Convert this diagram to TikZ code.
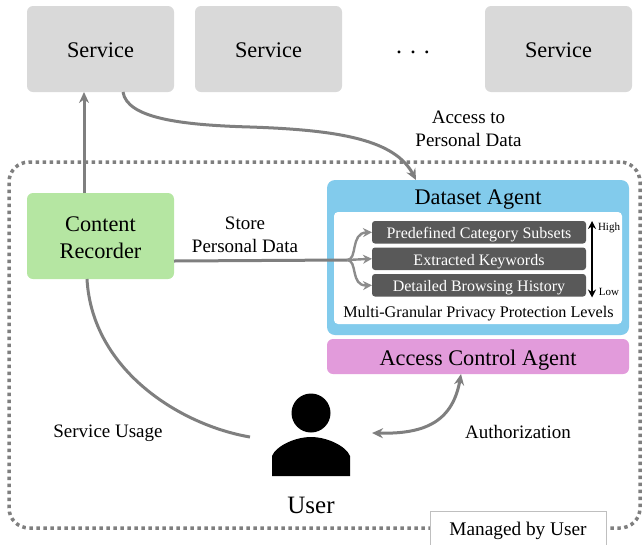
\documentclass[tikz,border=0pt]{standalone}
\usepackage{fontspec}
\setmainfont{Liberation Serif}
\usetikzlibrary{arrows.meta,positioning}

\definecolor{servicegray}{HTML}{D9D9D9}
\definecolor{recordergreen}{HTML}{B5E6A2}
\definecolor{datasetblue}{HTML}{82CBEC}
\definecolor{accesspink}{HTML}{E29BDB}
\definecolor{levelgray}{HTML}{595959}
\definecolor{linkgray}{HTML}{7F7F7F}

\begin{document}
\begin{tikzpicture}[x=1pt, y=-1pt, node distance=4pt, thick, every node/.style={outer sep=0pt}]
    % Styles
    \tikzstyle{bigbox} = [rectangle, rounded corners=6pt, inner sep=0pt, font=\fontsize{22.3}{27}\selectfont, align=center]
    \tikzstyle{service} = [bigbox, fill=servicegray, minimum width=147pt, minimum height=86pt, text height=16pt, text depth=0pt]
    \tikzstyle{level} = [rectangle, rounded corners=3pt, inner sep=0pt, fill=levelgray, text=white, minimum width=214pt, minimum height=22.5pt, text height=12.5pt, text depth=0pt, font=\fontsize{16}{18}\selectfont]
    \tikzstyle{caption} = [inner sep=0pt, align=center, font=\fontsize{19}{23}\selectfont]
    \tikzstyle{tiny_label} = [inner sep=0pt, font=\fontsize{11}{12}\selectfont]
    \tikzstyle{arrow} = [-{Stealth[length=11pt, width=10pt]}, line width=3pt, color=linkgray]
    \tikzstyle{plainlink} = [line width=3pt, color=linkgray]
    \tikzstyle{both_arrow} = [{Stealth[length=11pt, width=10pt]}-{Stealth[length=11pt, width=10pt]}, line width=3pt, color=linkgray]
    \tikzstyle{branch} = [-{Stealth[length=9pt, width=9pt]}, line width=2.4pt, color=linkgray!90]
    \tikzstyle{level_arrow} = [{Stealth[length=8pt, width=8pt]}-{Stealth[length=8pt, width=8pt]}, line width=2pt, black]

    \useasboundingbox (0,0) rectangle (644,544);
    \clip (0,0) rectangle (644,544);

    % Frame
    \node [rectangle, draw=linkgray, line width=3.5pt, dash pattern=on 3.5pt off 3.5pt, rounded corners=20pt, minimum width=631pt, minimum height=366pt, anchor=north west] (frame) at (9,162) {};
    \node [rectangle, draw=black!25, fill=white, line width=0.8pt, minimum width=176pt, minimum height=36pt, anchor=north west, inner sep=0pt, text height=12pt, text depth=0pt, font=\fontsize{19.3}{23}\selectfont] (managed) at (430,511.5) {Managed by User};

    % Services
    \node [service, anchor=north west] (service1) at (27,6) {Service};
    \node [service, right=21pt of service1] (service2) {Service};
    \node [service, anchor=north west] (service3) at (485,6) {Service};
    \node [inner sep=0pt, font=\fontsize{24}{30}\selectfont] (dots) at (413,52) {. . .};

    % Content recorder
    \node [bigbox, fill=recordergreen, minimum width=147pt, minimum height=86pt, text height=46pt, anchor=north west] (recorder) at (27,193) {Content\\Recorder};

    % Dataset agent
    \node [rectangle, rounded corners=8pt, fill=datasetblue, minimum width=302pt, minimum height=155pt, anchor=north west] (dataset) at (327,180) {};
    \node [inner sep=0pt, font=\fontsize{22.3}{27}\selectfont] (datasettitle) at (478,199.5) {Dataset Agent};
    \node [rectangle, rounded corners=4pt, fill=white, minimum width=288pt, minimum height=112pt, anchor=north west] (inner) at (334,212) {};
    \node [level, anchor=north west] (subsets) at (372,221) {Predefined Category Subsets};
    \node [level, below=of subsets] (keywords) {Extracted Keywords};
    \node [level, below=of keywords] (history) {Detailed Browsing History};
    \node [inner sep=0pt, font=\fontsize{16.2}{18}\selectfont] (levels) at (478.5,314) {Multi-Granular Privacy Protection Levels};
    \node [tiny_label] (high) at (609,228) {High};
    \node [tiny_label] (low) at (609,292) {Low};
    \coordinate (hightip) at (592,221);
    \coordinate (lowtip) at (592,297.5);

    % Access control agent
    \node [bigbox, fill=accesspink, minimum width=302pt, minimum height=35pt, text height=17pt, text depth=0pt, anchor=north west] (access) at (327,339) {Access Control Agent};

    % User
    \fill (311,413) ellipse [x radius=19.5, y radius=19.5];
    \fill (272,476) -- (272,456) .. controls (276,446) and (295,437) .. (311,437) .. controls (327,437) and (346,446) .. (350,456) -- (350,476) -- cycle;
    \node [inner sep=0pt, font=\fontsize{25}{30}\selectfont] (user) at (311,505) {User};
    \coordinate (usageend) at (250,437);
    \coordinate (authend) at (372,433);

    % Labels
    \node [caption] (storelabel) at (245,234.5) {Store\\Personal Data};
    \node [caption] (accesslabel) at (468.5,129) {Access to\\Personal Data};
    \node [caption] (usagelabel) at (108,433) {Service Usage};
    \node [caption] (authlabel) at (518,432) {Authorization};

    % Connections
    \draw [arrow] ([xshift=-16.5pt]recorder.north) -- ([xshift=-16.5pt]service1.south);
    \draw [arrow] ([xshift=22.5pt]service1.south) .. controls (127,118) and (180,125) .. (250,127) .. controls (340,130) and (395,140) .. ([xshift=-62pt]dataset.north);
    \draw [plainlink] ([xshift=-13.5pt]recorder.south) .. controls (92,370) and (180,425) .. (usageend);
    \draw [both_arrow] (authend) .. controls (420,434) and (452,425) .. ([xshift=-17pt]access.south);
    \draw [level_arrow] (hightip) -- (lowtip);

    % Store branches
    \coordinate (hub) at (347,260);
    \draw [plainlink] ([yshift=-25pt]recorder.east) -- (hub);
    \draw [branch] (hub) .. controls (358,260) and (350,233) .. (subsets.west);
    \draw [branch] (hub) -- (keywords.west);
    \draw [branch] (hub) .. controls (358,260) and (350,286) .. (history.west);
\end{tikzpicture}
\end{document}
